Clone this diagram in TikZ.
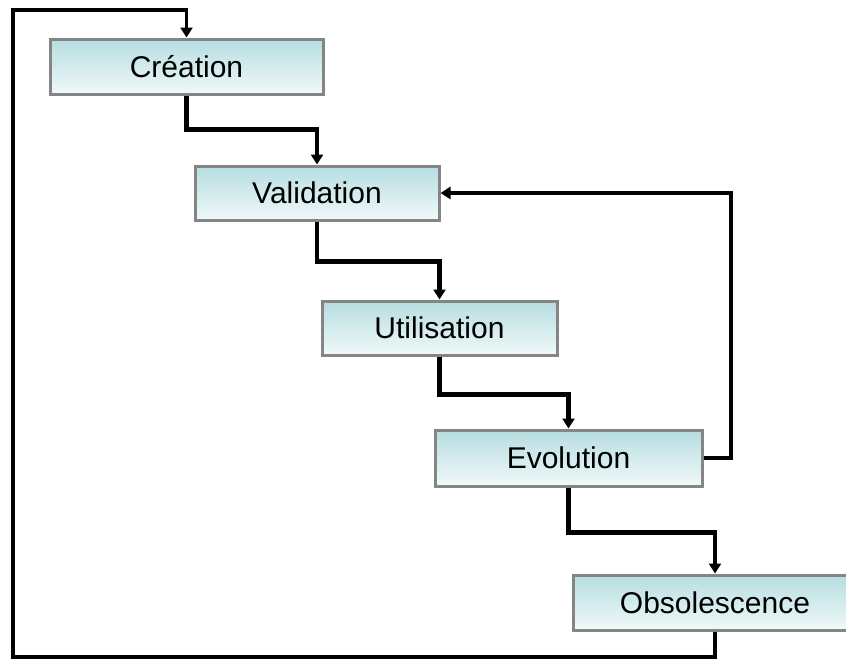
\documentclass[tikz,border=0pt]{standalone}
\usepackage{fontspec}
\setmainfont{Liberation Sans}
\usetikzlibrary{arrows.meta}
\definecolor{boxtop}{HTML}{B6DDE0}
\definecolor{boxbot}{HTML}{F0F9F9}
\definecolor{boxline}{HTML}{858585}
\tikzset{
  stage/.style={draw=boxline, line width=3pt, top color=boxtop, bottom color=boxbot,
    inner sep=0pt, font=\fontsize{30}{33}\selectfont, text=black},
  conn/.style={draw=black, line width=4.5pt, -{Triangle[length=10pt,width=12pt]}},
  loopline/.style={draw=black, line width=3.5pt, -{Triangle[length=10pt,width=12pt]}}
}
\begin{document}
\begin{tikzpicture}[x=1pt,y=-1pt]
\useasboundingbox[fill=white] (0,0) rectangle (846,659);
\node[stage, minimum width=273pt, minimum height=55pt] (crea) at (186.5,66.5) {Création};
\node[stage, minimum width=244pt, minimum height=54pt] (val) at (317,193) {Validation};
\node[stage, minimum width=235pt, minimum height=54pt] (util) at (439.5,328) {Utilisation};
\node[stage, minimum width=267pt, minimum height=56pt] (evo) at (568.5,458) {Evolution};
\node[stage, minimum width=284pt, minimum height=55pt] (obs) at (715,602.5) {Obsolescence};
\coordinate (ebr) at (731,193);
\coordinate (bl) at (13,657);
\coordinate (tl) at (13,10);
\draw[conn] (crea.south) -- ++(0,34) -| (val.north);
\draw[conn] (val.south) -- ++(0,40) -| (util.north);
\draw[conn] (util.south) -- ++(0,38) -| (evo.north);
\draw[conn] (evo.south) -- ++(0,45) -| (obs.north);
\draw[conn] (evo.east) -| (ebr) -- (val.east);
\draw[loopline, line join=miter] (obs.south) |- (bl) -- (tl) -| (crea.north);
\end{tikzpicture}
\end{document}
